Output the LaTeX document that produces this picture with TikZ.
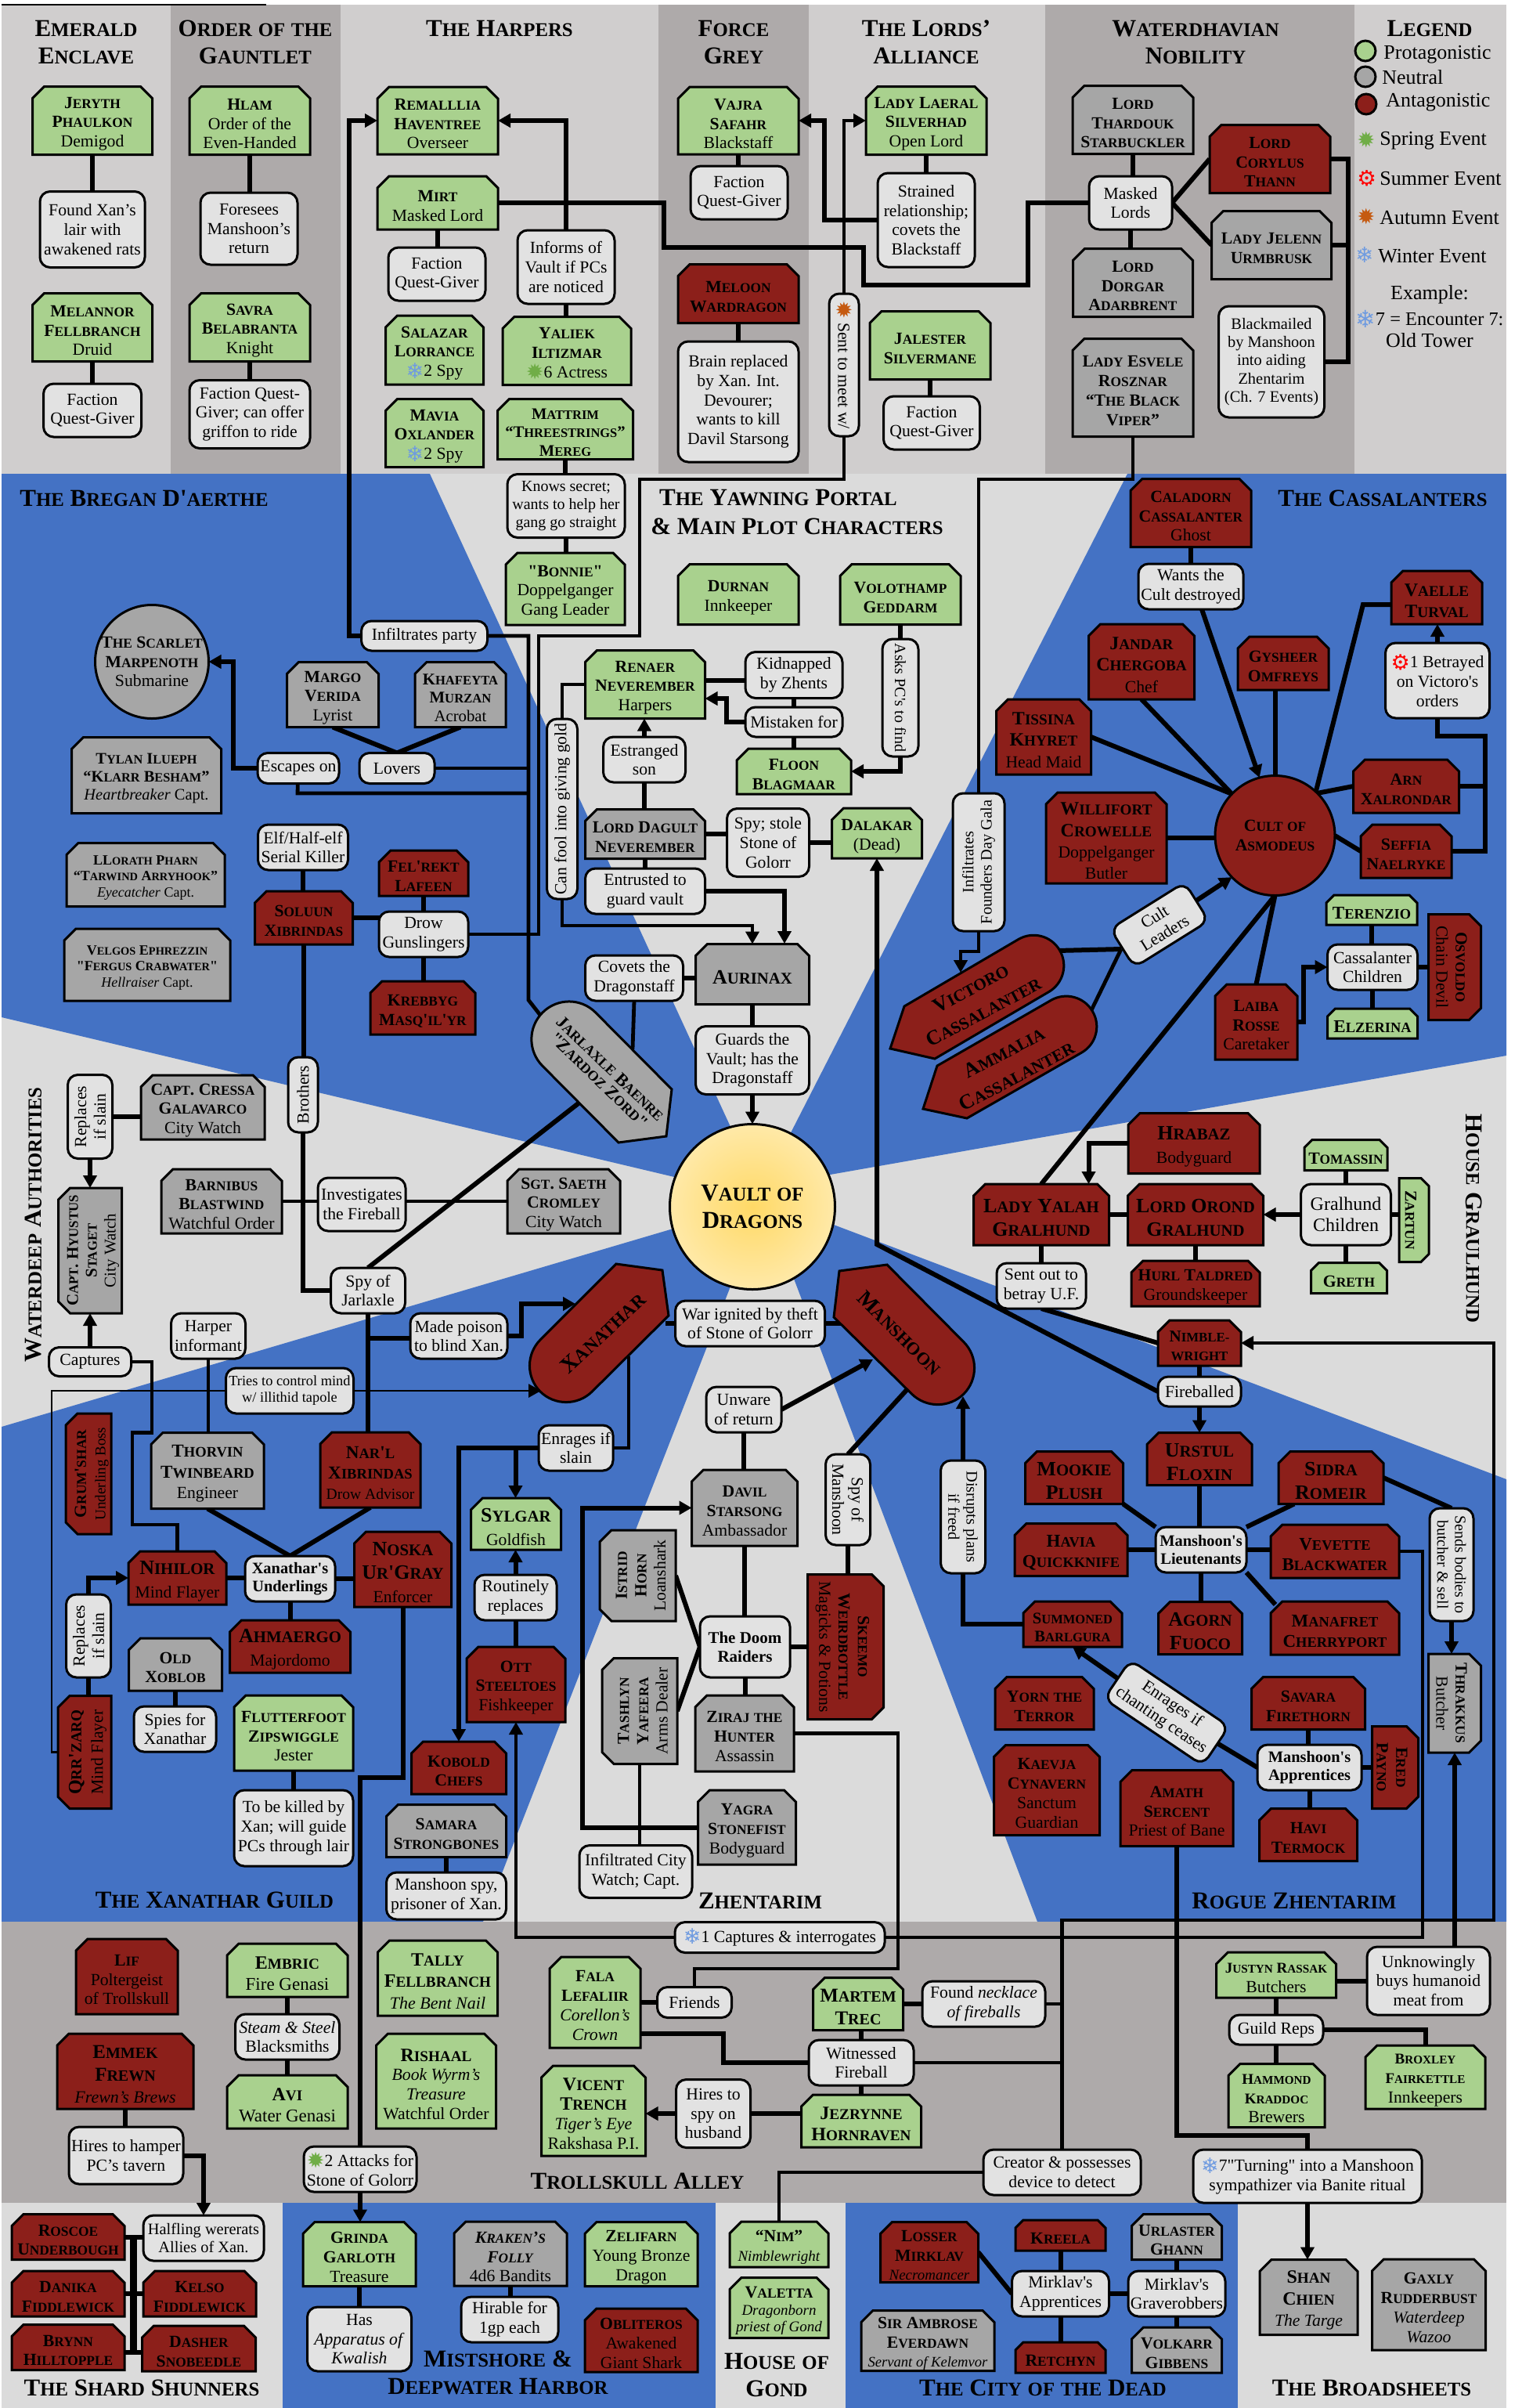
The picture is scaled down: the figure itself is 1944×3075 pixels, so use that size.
\documentclass[tikz,border=0pt]{standalone}
\usepackage{fontspec}
\setmainfont{Liberation Serif}[Ligatures=TeXOff]
\newfontfamily\symf{DejaVu Sans}
\usetikzlibrary{arrows.meta,calc}
\definecolor{cgreen}{HTML}{A9D18E}
\definecolor{cred}{HTML}{8C1F1A}
\definecolor{cgray}{HTML}{A6A6A6}
\definecolor{cnote}{HTML}{E2E2E2}
\definecolor{cblue}{HTML}{4472C4}
\definecolor{clight}{HTML}{DBDBDB}
\definecolor{bandl}{HTML}{D0CECE}
\definecolor{bandd}{HTML}{AEAAAA}
\definecolor{sprc}{HTML}{70AD47}
\definecolor{sumc}{HTML}{FF0000}
\definecolor{autc}{HTML}{C55A11}
\definecolor{winc}{HTML}{6F9BE0}
\definecolor{vaultin}{HTML}{FFD966}
\definecolor{vaultout}{HTML}{FFE9A8}
\pgfdeclarelayer{bgd}\pgfdeclarelayer{conn}\pgfsetlayers{bgd,conn,main}
\newcommand\sz[1]{\fontsize{#1}{\dimexpr #1pt*114/100\relax}\selectfont}
\makeatletter
\def\SC#1{\@tempdima=\f@size pt \@tempdima=.8\@tempdima \edef\scsz{\strip@pt\@tempdima}\SCwords#1 \SCstop}
\def\SCwords#1 #2\SCstop{\SCloop#1\SCend\if\relax\detokenize{#2}\relax\else\space\SCwords#2\SCstop\fi}
\def\SCend{\SCend}
\def\SCloop#1{\ifx#1\SCend\else\SCchar{#1}\expandafter\SCloop\fi}
\def\SCchar#1{\ifnum`#1=\lccode`#1 {\fontsize{\scsz}{0}\selectfont\uppercase{#1}}\else #1\fi}
\newdimen\cardsnip \newdimen\snxa \newdimen\snya \newdimen\snxb \newdimen\snyb
\pgfdeclareshape{snipcard}{
 \inheritsavedanchors[from=rectangle]
 \inheritanchorborder[from=rectangle]
 \inheritanchor[from=rectangle]{center}
 \inheritanchor[from=rectangle]{north}
 \inheritanchor[from=rectangle]{south}
 \inheritanchor[from=rectangle]{east}
 \inheritanchor[from=rectangle]{west}
 \inheritanchor[from=rectangle]{north east}
 \inheritanchor[from=rectangle]{north west}
 \inheritanchor[from=rectangle]{south east}
 \inheritanchor[from=rectangle]{south west}
 \anchor{text}{\pgfqpoint{0pt}{-2pt}}
 \backgroundpath{
  \southwest \snxa=\pgf@x \snya=\pgf@y
  \northeast \snxb=\pgf@x \snyb=\pgf@y
  \pgfpathmoveto{\pgfqpoint{\snxa}{\snya}}
  \pgfpathlineto{\pgfqpoint{\snxa}{\dimexpr\snyb-\cardsnip\relax}}
  \pgfpathlineto{\pgfqpoint{\dimexpr\snxa+\cardsnip\relax}{\snyb}}
  \pgfpathlineto{\pgfqpoint{\dimexpr\snxb-\cardsnip\relax}{\snyb}}
  \pgfpathlineto{\pgfqpoint{\snxb}{\dimexpr\snyb-\cardsnip\relax}}
  \pgfpathlineto{\pgfqpoint{\snxb}{\snya}}
  \pgfpathclose
 }
}
\makeatother
\newcommand\N[1]{\textbf{\SC{#1}}}
\newcommand\tx[2]{{\sz{#1}#2}}
\newcommand\icn[2]{\raisebox{-.12em}{\scalebox{1.25}{\symf\color{#1}#2}}}
\newcommand\SPR{\icn{sprc}{✹}}
\newcommand\SUM{\icn{sumc}{⚙}}
\newcommand\AUT{\icn{autc}{✹}}
\newcommand\WIN{\icn{winc}{❄}}
\tikzset{
 fs/.style={font=\sz{#1}},
 snip/.code={\setlength\cardsnip{#1}},
 base/.style={draw=black,line width=1.5pt,align=center,inner sep=0pt,outer sep=0pt,fs=10.85},
 card/.style={base,shape=snipcard,snip=7.5pt},
 gcard/.style={card,fill=cgreen},
 rcard/.style={card,fill=cred},
 ycard/.style={card,fill=cgray},
 note/.style={base,rectangle,rounded corners=6.5pt,fill=cnote},
 disc/.style={base,circle},
 title/.style={align=center,inner sep=0pt,fs=15.5},
 leg/.style={anchor=west,inner sep=0pt,fs=13},
 bigshape/.style={draw=black,line width=1.5pt,fill=cred,line join=miter},
 th/.style={draw=black,line width=3pt},
 md/.style={draw=black,line width=2.4pt},
 tn/.style={draw=black,line width=1.4pt},
 arr/.style={-{Triangle[length=8pt,width=8.5pt]}},
}
\newcommand\nd[6]{\node[#5,minimum width=#3*.5pt,minimum height=#4*.5pt] (#1) at (#2) {#6};}
\newcommand\VL[3][th]{\draw[#1] (#2.center) -- (#2.center |- #3.center);}
\newcommand\HL[3][th]{\draw[#1] (#2.center) -- (#2.center -| #3.center);}
\begin{document}
\begin{tikzpicture}[x=.5pt,y=-.5pt]
\useasboundingbox (0,0) rectangle (1944,3075);
\begin{pgfonlayer}{bgd}
\fill[white] (0,0) rectangle (1944,3075);
\fill[clight] (2,605) rectangle (1924,2454);
\fill[cblue] (2,605) -- (549,605) -- (975,1530) -- (2,1299) -- cycle;
\fill[cblue] (1440,605) -- (1924,605) -- (1924,1348) -- (975,1515) -- cycle;
\fill[cblue] (2,1822) -- (975,1535) -- (617,2454) -- (2,2454) -- cycle;
\fill[cblue] (975,1530) -- (1924,1889) -- (1924,2454) -- (1325,2454) -- cycle;
\fill[bandl] (2,6) rectangle (218,605);
\fill[bandd] (218,6) rectangle (435,605);
\fill[bandl] (435,6) rectangle (841,605);
\fill[bandd] (841,6) rectangle (1033,605);
\fill[bandl] (1033,6) rectangle (1335,605);
\fill[bandd] (1335,6) rectangle (1730,605);
\fill[bandl] (1730,6) rectangle (1924,605);
\draw[line width=.7pt] (2,6) -- (340,6);
\fill[bandd] (2,2454) rectangle (1924,2813);
\fill[clight] (2,2813) rectangle (361,3075);
\fill[cblue] (361,2813) rectangle (914,3075);
\fill[clight] (914,2813) rectangle (1080,3075);
\fill[cblue] (1080,2813) rectangle (1581,3075);
\fill[clight] (1581,2813) rectangle (1924,3075);
\end{pgfonlayer}
% titles
\node[title] (t1) at (110,54) {\N{Emerald}\\\N{Enclave}};
\node[title] (t2) at (326,54) {\N{Order of the}\\\N{Gauntlet}};
\node[title] (t3) at (638,36) {\N{The Harpers}};
\node[title] (t4) at (937,54) {\N{Force}\\\N{Grey}};
\node[title] (t5) at (1183,54) {\N{The Lords’}\\\N{Alliance}};
\node[title] (t6) at (1527,54) {\N{Waterdhavian}\\\N{Nobility}};
\node[title] (t7) at (1826,36) {\N{Legend}};
\node[title] (t8) at (184,636) {\N{The Bregan D'aerthe}};
\node[title] (t9a) at (994,636) {\N{The Yawning Portal}};
\node[title] (t9b) at (1018,672) {\N{\& Main Plot Characters}};
\node[title] (t10) at (1766,636) {\N{The Cassalanters}};
\node[title,rotate=90] (t11) at (43,1564) {\N{Waterdeep Authorities}};
\node[title,rotate=-90] (t12) at (1883,1556) {\N{House Graulhund}};
\node[title] (t13) at (274,2426) {\N{The Xanathar Guild}};
\node[title] (t14) at (971,2427) {\N{Zhentarim}};
\node[title] (t15) at (1653,2427) {\N{Rogue Zhentarim}};
\node[title] (t16) at (814,2785) {\N{Trollskull Alley}};
\node[title] (t17) at (181,3049) {\N{The Shard Shunners}};
\node[title] (t18) at (636,3030) {\N{Mistshore \&}\\\N{Deepwater Harbor}};
\node[title] (t19) at (992,3033) {\N{House of}\\\N{Gond}};
\node[title] (t20) at (1332,3049) {\N{The City of the Dead}};
\node[title] (t21) at (1752,3049) {\N{The Broadsheets}};
% legend
\nd{lg1}{1744,65}{26}{26}{disc,fill=cgreen}{}
\nd{lg2}{1744,98}{26}{26}{disc,fill=cgray}{}
\nd{lg3}{1745,133}{26}{26}{disc,fill=cred}{}
\node[leg] (lt1) at (1767,70) {Protagonistic};
\node[leg] (lt2) at (1765,99) {Neutral};
\node[leg] (lt3) at (1770,131) {Antagonistic};
\node[leg,fs=11] (li1) at (1733,178) {\SPR};
\node[leg] (lt4) at (1762,180) {Spring Event};
\node[leg,fs=11] (li2) at (1733,228) {\SUM};
\node[leg] (lt5) at (1762,228) {Summer Event};
\node[leg,fs=11] (li3) at (1733,276) {\AUT};
\node[leg] (lt6) at (1762,278) {Autumn Event};
\node[leg,fs=11] (li4) at (1731,325) {\WIN};
\node[leg] (lt7) at (1760,327) {Winter Event};
\node[fs=13,inner sep=0pt] (lt8) at (1826,376) {Example:};
\node[leg,fs=12.2] (lt9) at (1731,407) {\WIN7 = Encounter 7:};
\node[fs=13,inner sep=0pt] (lt10) at (1826,435) {Old Tower};
% top band nodes
\nd{jeryth}{118,154}{153}{87}{gcard}{\N{Jeryth}\\\N{Phaulkon}\\Demigod}
\nd{found}{118,293}{134}{97}{note}{Found Xan’s\\lair with\\awakened rats}
\nd{melannor}{118,418}{153}{87}{gcard}{\N{Melannor}\\\N{Fellbranch}\\Druid}
\nd{fq1}{118,524}{125}{68}{note}{Faction\\Quest-Giver}
\nd{hlam}{319,154}{154}{87}{gcard}{\N{Hlam}\\Order of the\\Even-Handed}
\nd{foresees}{318,292}{124}{92}{note}{Foresees\\Manshoon’s\\return}
\nd{savra}{319,418}{154}{87}{gcard}{\N{Savra}\\\N{Belabranta}\\Knight}
\nd{griffon}{319,529}{154}{87}{note}{Faction Quest-\\Giver; can offer\\griffon to ride}
\nd{remal}{559,154}{154}{86}{gcard}{\N{Remalllia}\\\N{Haventree}\\Overseer}
\nd{mirt}{559,259}{154}{68}{gcard}{\N{Mirt}\\Masked Lord}
\nd{fq2}{558,350}{124}{68}{note}{Faction\\Quest-Giver}
\nd{informs}{723,341}{124}{94}{note}{Informs of\\Vault if PCs\\are noticed}
\nd{salazar}{555,447}{125}{88}{gcard}{\N{Salazar}\\\N{Lorrance}\\\WIN2 Spy}
\nd{yaliek}{724,448}{164}{87}{gcard}{\N{Yaliek}\\\N{Iltizmar}\\\SPR6 Actress}
\nd{mavia}{555,553}{125}{87}{gcard}{\N{Mavia}\\\N{Oxlander}\\\WIN2 Spy}
\nd{mattrim}{722,548}{173}{77}{gcard,fs=10.3}{\N{Mattrim}\\\N{“Threestrings”}\\\N{Mereg}}
\nd{knows}{723,646}{150}{81}{note,fs=10}{Knows secret;\\wants to help her\\gang go straight}
\nd{bonnie}{722,752}{152}{92}{gcard}{\N{"Bonnie"}\\Doppelganger\\Gang Leader}
\nd{vajra}{943,154}{154}{86}{gcard}{\N{Vajra}\\\N{Safahr}\\Blackstaff}
\nd{fq3}{944,246}{124}{68}{note}{Faction\\Quest-Giver}
\nd{meloon}{943,375}{154}{75}{rcard}{\N{Meloon}\\\N{Wardragon}}
\nd{brain}{943,513}{154}{154}{note}{Brain replaced\\by Xan. Int.\\Devourer;\\wants to kill\\Davil Starsong}
\nd{durnan}{943,759}{154}{77}{gcard}{\N{Durnan}\\Innkeeper}
\nd{laeral}{1183,154}{154}{87}{gcard}{\N{Lady Laeral}\\\N{Silverhad}\\Open Lord}
\nd{strained}{1183,281}{124}{120}{note}{Strained\\relationship;\\covets the\\Blackstaff}
\nd{sentw}{1078,466}{182}{38}{note,rotate=-90}{\AUT\ Sent to meet w/}
\nd{jalester}{1188,441}{154}{87}{gcard}{\N{Jalester}\\\N{Silvermane}}
\nd{fq4}{1190,540}{123}{68}{note}{Faction\\Quest-Giver}
\nd{thardouk}{1447,153}{154}{87}{ycard}{\N{Lord}\\\N{Thardouk}\\\N{Starbuckler}}
\nd{corylus}{1622,203}{154}{87}{rcard}{\N{Lord}\\\N{Corylus}\\\N{Thann}}
\nd{masked}{1444,259}{106}{68}{note}{Masked\\Lords}
\nd{jelenn}{1624,313}{153}{87}{ycard}{\N{Lady Jelenn}\\\N{Urmbrusk}}
\nd{dorgar}{1447,361}{153}{87}{ycard}{\N{Lord}\\\N{Dorgar}\\\N{Adarbrent}}
\nd{blackm}{1624,462}{135}{142}{note,fs=10.2}{Blackmailed\\by Manshoon\\into aiding\\Zhentarim\\(Ch. 7 Events)}
\nd{esvele}{1447,495}{154}{125}{ycard}{\N{Lady Esvele}\\\N{Rosznar}\\\N{“The Black}\\\N{Viper”}}
% Bregan
\nd{scarlet}{194,845}{145}{145}{disc,fill=cgray}{\N{The Scarlet}\\\N{Marpenoth}\\Submarine}
\nd{infparty}{542,812}{161}{38}{note}{Infiltrates party}
\nd{margo}{425,887}{117}{83}{ycard}{\N{Margo}\\\N{Verida}\\Lyrist}
\nd{khafeyta}{588,887}{116}{83}{ycard,fs=10.4}{\N{Khafeyta}\\\N{Murzan}\\Acrobat}
\nd{tylan}{187,990}{191}{97}{ycard,fs=10.2}{\N{Tylan Ilueph}\\\N{“Klarr Besham”}\\\textit{Heartbreaker} Capt.}
\nd{escapes}{381,981}{104}{39}{note}{Escapes on}
\nd{lovers}{507,981}{96}{39}{note}{Lovers}
\nd{renaer}{824,874}{153}{87}{gcard}{\N{Renaer}\\\N{Neverember}\\Harpers}
\nd{estranged}{823,970}{105}{58}{note}{Estranged\\son}
\nd{canfool}{718,1033}{230}{39}{note,rotate=90}{Can fool into giving gold}
\nd{dagult}{824,1065}{153}{63}{ycard}{\N{Lord Dagult}\\\N{Neverember}}
\nd{entrusted}{824,1138}{153}{58}{note}{Entrusted to\\guard vault}
\nd{llorath}{186,1117}{202}{81}{ycard,fs=9}{\N{LLorath Pharn}\\\N{“Tarwind Arryhook”}\\\textit{Eyecatcher} Capt.}
\nd{elf}{387,1082}{115}{58}{note}{Elf/Half-elf\\Serial Killer}
\nd{felrekt}{541,1115}{114}{58}{rcard}{\N{Fel'rekt}\\\N{Lafeen}}
\nd{soluun}{388,1172}{125}{68}{rcard}{\N{Soluun}\\\N{Xibrindas}}
\nd{drow}{541,1193}{114}{58}{note}{Drow\\Gunslingers}
\nd{velgos}{188,1232}{212}{92}{ycard,fs=9}{\N{Velgos Ephrezzin}\\\N{"Fergus Crabwater"}\\\textit{Hellraiser} Capt.}
\nd{krebbyg}{540,1287}{134}{68}{rcard}{\N{Krebbyg}\\\N{Masq'il'yr}}
\nd{covets}{810,1249}{125}{58}{note}{Covets the\\Dragonstaff}
\nd{aurinax}{961,1244}{145}{77}{ycard,fs=13}{\N{Aurinax}}
\nd{guards}{961,1354}{145}{87}{note}{Guards the\\Vault; has the\\Dragonstaff}
\nd{vault}{961,1541}{211}{211}{disc,shading=radial,inner color=vaultin,outer color=vaultout,fs=15.5}{\N{Vault of}\\\N{Dragons}}
% Jarlaxle
\draw[bigshape,fill=cgray] (790,1459) -- (851,1451) -- (858,1391) [rounded corners=24pt] -- (727,1259) -- (659,1327) [sharp corners] -- cycle;
\node[align=center,inner sep=0pt,rotate=-44,fs=11.2] (jarl) at (772.5,1372) {\N{Jarlaxle Baenre}\\[-2.5pt]\N{"Zardoz Zord"}};
% authorities
\nd{repl1}{115,1426}{107}{57}{note,rotate=90}{Replaces\\if slain}
\nd{cressa}{259,1414}{158}{82}{ycard}{\N{Capt. Cressa}\\\N{Galavarco}\\City Watch}
\nd{brothers}{387,1398}{96}{38}{note,rotate=90}{Brothers}
\nd{hyustus}{115,1597}{160}{81}{ycard,rotate=90,fs=10.5}{\N{Capt. Hyustus}\\\N{Staget}\\City Watch}
\nd{barnibus}{283,1534}{154}{82}{ycard}{\N{Barnibus}\\\N{Blastwind}\\Watchful Order}
\nd{investig}{462,1538}{112}{68}{note}{Investigates\\the Fireball}
\nd{sgt}{720,1534}{144}{82}{ycard}{\N{Sgt. Saeth}\\\N{Cromley}\\City Watch}
\nd{spyj}{470,1648}{95}{58}{note}{Spy of\\Jarlaxle}
\nd{poison}{586,1706}{124}{58}{note}{Made poison\\to blind Xan.}
\nd{harper}{266,1706}{95}{58}{note}{Harper\\informant}
\nd{captures}{115,1739}{105}{37}{note}{Captures}
\nd{tries}{370,1776}{163}{58}{note,fs=9.2}{Tries to control mind\\w/ illithid tapole}
% Xanathar
\draw[bigshape] (787,1614) -- (846,1622) -- (854,1680) [rounded corners=23.5pt] -- (723,1810) -- (657,1744) [sharp corners] -- cycle;
\node[inner sep=0pt,rotate=43,fs=14.5] (xanathar) at (770,1702) {\N{Xanathar}};
\nd{war}{958,1690}{191}{58}{note}{War ignited by theft\\of Stone of Golorr}
\nd{unware}{950,1800}{96}{58}{note}{Unware\\of return}
% Manshoon
\draw[bigshape] (1072,1623) -- (1133,1615) [rounded corners=23.5pt] -- (1264,1747) -- (1198,1813) [sharp corners] -- (1065,1682) -- cycle;
\node[inner sep=0pt,rotate=-45,fs=14] (manshoon) at (1149,1702) {\N{Manshoon}};
% Main plot right
\nd{volo}{1150,759}{154}{77}{gcard}{\N{Volothamp}\\\N{Geddarm}}
\nd{kidnapped}{1014,862}{124}{59}{note}{Kidnapped\\by Zhents}
\nd{mistaken}{1014,922}{124}{38}{note}{Mistaken for}
\nd{floon}{1014,985}{146}{58}{gcard}{\N{Floon}\\\N{Blagmaar}}
\nd{asks}{1150,891}{150}{46}{note,rotate=-90,fs=10}{Asks PC's to find}
\nd{spy}{981,1076}{105}{87}{note}{Spy; stole\\Stone of\\Golorr}
\nd{dalakar}{1120,1064}{115}{64}{gcard}{\N{Dalakar}\\(Dead)}
\nd{inffound}{1250,1101}{176}{66}{note,rotate=90,fs=10.2}{Infiltrates\\Founders Day Gala}
% Cassalanters
\nd{caladorn}{1521,655}{154}{87}{rcard}{\N{Caladorn}\\\N{Cassalanter}\\Ghost}
\nd{wants}{1521,749}{134}{58}{note}{Wants the\\Cult destroyed}
\nd{vaelle}{1835,763}{116}{68}{rcard,fs=12}{\N{Vaelle}\\\N{Turval}}
\nd{jandar}{1458,845}{135}{96}{rcard,fs=12}{\N{Jandar}\\\N{Chergoba}\\\tx{10.85}{Chef}}
\nd{gysheer}{1639,847}{116}{68}{rcard}{\N{Gysheer}\\\N{Omfreys}}
\nd{betrayed}{1836,869}{133}{96}{note}{\SUM1 Betrayed\\on Victoro's\\orders}
\nd{tissina}{1333,941}{121}{96}{rcard,fs=12}{\N{Tissina}\\\N{Khyret}\\\tx{10.85}{Head Maid}}
\nd{arn}{1796,1004}{135}{68}{rcard}{\N{Arn}\\\N{Xalrondar}}
\nd{seffia}{1796,1087}{116}{68}{rcard}{\N{Seffia}\\\N{Naelryke}}
\nd{willif}{1413,1070}{154}{116}{rcard,fs=12}{\N{Willifort}\\\N{Crowelle}\\\tx{10.85}{Doppelganger}\\\tx{10.85}{Butler}}
\nd{cult}{1628.5,1067}{153}{153}{disc,fill=cred}{\N{Cult of}\\\N{Asmodeus}}
\nd{cl}{1481,1181}{112}{58}{note,rotate=32}{Cult\\Leaders}
\nd{terenzio}{1752,1162}{116}{38}{gcard,snip=5pt,fs=11.5}{\N{Terenzio}}
\nd{osvoldo}{1858,1235}{135}{67}{rcard,rotate=-90}{\N{Osvoldo}\\Chain Devil}
\nd{children}{1753,1235}{115}{58}{note}{Cassalanter\\Children}
\nd{elzerina}{1753,1307}{115}{38}{gcard,snip=5pt,fs=11.5}{\N{Elzerina}}
\nd{laiba}{1604.5,1305}{105}{96}{rcard}{\N{Laiba}\\\N{Rosse}\\Caretaker}
% Victoro, Ammalia
\draw[bigshape] (1155,1285) -- (1137,1339) -- (1194,1352) [rounded corners=19.3pt] -- (1373,1247) -- (1334,1180) [sharp corners] -- cycle;
\node[align=center,inner sep=0pt,rotate=28,fs=13.3] (victoro) at (1248,1277) {\N{Victoro}\\[2pt]\N{Cassalanter}};
\draw[bigshape] (1197,1361) -- (1179,1416) -- (1235,1428) [rounded corners=19.3pt] -- (1415,1325) -- (1376,1258) [sharp corners] -- cycle;
\node[align=center,inner sep=0pt,rotate=28,fs=13.3] (ammalia) at (1290.5,1359) {\N{Ammalia}\\[2pt]\N{Cassalanter}};
% Gralhund
\nd{hrabaz}{1525,1460}{168}{77}{rcard,fs=13}{\N{Hrabaz}\\\tx{10.85}{Bodyguard}}
\nd{tomassin}{1719,1475}{106}{39}{gcard,snip=5pt}{\N{Tomassin}}
\nd{yalah}{1330,1551}{173}{78}{rcard,fs=13}{\N{Lady Yalah}\\\N{Gralhund}}
\nd{orond}{1527,1551}{173}{78}{rcard,fs=13}{\N{Lord Orond}\\\N{Gralhund}}
\nd{gchild}{1719,1551}{115}{78}{note,fs=12}{Gralhund\\Children}
\nd{zartun}{1806,1558}{107}{38}{gcard,rotate=-90,snip=5pt}{\N{Zartun}}
\nd{sentout}{1330,1642}{114}{58}{note}{Sent out to\\betray U.F.}
\nd{hurl}{1527,1639}{164}{58}{rcard}{\N{Hurl Taldred}\\Groundskeeper}
\nd{greth}{1723,1632}{97}{39}{gcard,snip=5pt}{\N{Greth}}
\nd{nimble}{1532,1715}{106}{58}{rcard,fs=10.5}{\N{Nimble-}\\\N{wright}}
\nd{fireballed}{1532,1777}{106}{38}{note}{Fireballed}
% Rogue
\nd{urstul}{1532,1863}{134}{67}{rcard,fs=13}{\N{Urstul}\\\N{Floxin}}
\nd{mookie}{1372,1887}{125}{67}{rcard,fs=13}{\N{Mookie}\\\N{Plush}}
\nd{sidra}{1700,1887}{134}{67}{rcard,fs=13}{\N{Sidra}\\\N{Romeir}}
\nd{sends}{1854,1998}{144}{56}{note,rotate=-90,fs=10}{Sends bodies to\\butcher \& sell}
\nd{disrupts}{1230,1937}{144}{57}{note,rotate=-90,fs=10.2}{Disrupts plans\\if freed}
\nd{spym}{1083,1915}{116}{57}{note,rotate=-90}{Spy of\\Manshoon}
\nd{havia}{1368,1979}{144}{67}{rcard,fs=11.5}{\N{Havia}\\\N{Quickknife}}
\nd{lieut}{1534,1979}{116}{58}{note,fs=10.2}{\textbf{Manshoon's}\\\textbf{Lieutenants}}
\nd{vevette}{1705,1981}{164}{68}{rcard,fs=11.5}{\N{Vevette}\\\N{Blackwater}}
\nd{summoned}{1370,2074}{126}{58}{rcard,fs=10.3}{\N{Summoned}\\\N{Barlgura}}
\nd{agorn}{1533,2079}{107}{67}{rcard,fs=13}{\N{Agorn}\\\N{Fuoco}}
\nd{manafret}{1705,2079}{164}{68}{rcard,fs=11.5}{\N{Manafret}\\\N{Cherryport}}
\nd{thrakkus}{1858,2175}{126}{67}{ycard,rotate=-90}{\N{Thrakkus}\\Butcher}
\nd{skeemo}{1080,2103}{185}{97}{rcard,rotate=-90}{\N{Skeemo}\\\N{Weirdbottle}\\Magicks \& Potions}
\nd{yorn}{1334,2175}{126}{67}{rcard}{\N{Yorn the}\\\N{Terror}}
\nd{savara}{1671,2175}{145}{67}{rcard}{\N{Savara}\\\N{Firethorn}}
\nd{ench}{1490,2187}{152}{60}{note,rotate=-34}{Enrages if\\chanting ceases}
\nd{ered}{1782,2257}{105}{59}{rcard,rotate=-90}{\N{Ered}\\\N{Payno}}
\nd{appr}{1672.5,2257}{133}{58}{note,fs=10.2}{\textbf{Manshoon's}\\\textbf{Apprentices}}
\nd{kaevja}{1337,2286}{135}{115}{rcard}{\N{Kaevja}\\\N{Cynavern}\\Sanctum\\Guardian}
\nd{amath}{1503,2309}{144}{97}{rcard}{\N{Amath}\\\N{Sercent}\\Priest of Bane}
\nd{havi}{1671,2343}{125}{67}{rcard}{\N{Havi}\\\N{Termock}}
% Xanathar guild
\nd{grum}{113,1882}{154}{58}{rcard,rotate=90}{\N{Grum'shar}\\\tx{9.5}{Underling Boss}}
\nd{thorvin}{265,1878}{144}{97}{ycard,fs=11.6}{\N{Thorvin}\\\N{Twinbeard}\\\tx{10.85}{Engineer}}
\nd{narl}{473,1877}{128}{96}{rcard,fs=11.6}{\N{Nar'l}\\\N{Xibrindas}\\\tx{9.8}{Drow Advisor}}
\nd{enslain}{735.5,1849}{95}{58}{note}{Enrages if\\slain}
\nd{sylgar}{659,1946}{115}{66}{gcard,fs=13}{\N{Sylgar}\\\tx{10.85}{Goldfish}}
\nd{nihilor}{226.5,2015}{125}{68}{rcard,fs=13}{\N{Nihilor}\\\tx{10.85}{Mind Flayer}}
\nd{underl}{370.5,2016}{115}{58}{note,fs=10.2}{\textbf{Xanathar's}\\\textbf{Underlings}}
\nd{noska}{514.5,2004}{124}{96}{rcard,fs=13}{\N{Noska}\\\N{Ur'Gray}\\\tx{10.85}{Enforcer}}
\nd{routinely}{658.5,2040}{105}{58}{note}{Routinely\\replaces}
\nd{repl2}{113,2089}{106}{57}{note,rotate=90}{Replaces\\if slain}
\nd{ahmaergo}{370.5,2102.5}{154}{67}{rcard,fs=13}{\N{Ahmaergo}\\\tx{10.85}{Majordomo}}
\nd{xoblob}{224,2125.5}{119}{67}{ycard}{\N{Old}\\\N{Xoblob}}
\nd{ott}{659,2151}{126}{96}{rcard}{\N{Ott}\\\N{Steeltoes}\\Fishkeeper}
\nd{spies}{223.5,2208}{105}{58}{note}{Spies for\\Xanathar}
\nd{qrr}{108,2237.5}{144}{68}{rcard,rotate=90,fs=12}{\N{Qrr'zarq}\\\tx{10.85}{Mind Flayer}}
\nd{flutter}{375,2213}{152}{96}{gcard}{\N{Flutterfoot}\\\N{Zipswiggle}\\Jester}
\nd{kobold}{586,2257.5}{121}{67}{rcard}{\N{Kobold}\\\N{Chefs}}
\nd{kill}{375,2334.5}{152}{97}{note}{To be killed by\\Xan; will guide\\PCs through lair}
\nd{samara}{570,2338}{153}{67}{ycard}{\N{Samara}\\\N{Strongbones}}
\nd{mspy}{570,2421}{153}{60}{note}{Manshoon spy,\\prisoner of Xan.}
% Zhentarim
\nd{davil}{951,1925.5}{135}{97}{ycard}{\N{Davil}\\\N{Starsong}\\Ambassador}
\nd{istrid}{814.5,2012}{116}{97}{ycard,rotate=90}{\N{Istrid}\\\N{Horn}\\Loanshark}
\nd{doom}{951.5,2103}{115}{78}{note,fs=10.5}{\textbf{The Doom}\\\textbf{Raiders}}
\nd{tashlyn}{817,2185}{135}{96}{ycard,rotate=90}{\N{Tashlyn}\\\N{Yafeera}\\Arms Dealer}
\nd{ziraj}{951,2213.5}{126}{97}{ycard}{\N{Ziraj the}\\\N{Hunter}\\Assassin}
\nd{yagra}{954,2333.5}{125}{95}{ycard}{\N{Yagra}\\\N{Stonefist}\\Bodyguard}
\nd{infcity}{812,2390}{144}{67}{note}{Infiltrated City\\Watch; Capt.}
\nd{capt}{996,2474}{268}{39}{note}{\WIN1 Captures \& interrogates}
% Trollskull
\nd{lif}{162,2524}{130}{96}{rcard}{\N{Lif}\\Poltergeist\\of Trollskull}
\nd{embric}{367,2516}{154}{68}{gcard,fs=12}{\N{Embric}\\\tx{11.5}{Fire Genasi}}
\nd{tally}{559,2526}{153}{96}{gcard,fs=12}{\N{Tally}\\\N{Fellbranch}\\\tx{11}{\textit{The Bent Nail}}}
\nd{fala}{760,2557}{116}{116}{gcard}{\N{Fala}\\\N{Lefaliir}\\\textit{Corellon’s}\\\textit{Crown}}
\nd{friends}{887,2557}{95}{39}{note}{Friends}
\nd{emmek}{160,2645}{174}{96}{rcard,fs=12.5}{\N{Emmek}\\\N{Frewn}\\\tx{11}{\textit{Frewn’s Brews}}}
\nd{steam}{367,2601}{133}{58}{note}{\textit{Steam \& Steel}\\Blacksmiths}
\nd{avi}{367,2684}{154}{68}{gcard,fs=12}{\N{Avi}\\\tx{11.5}{Water Genasi}}
\nd{rishaal}{557,2657.5}{153}{121}{gcard}{\tx{12}{\N{Rishaal}}\\\textit{Book Wyrm’s}\\\textit{Treasure}\\Watchful Order}
\nd{vicent}{758,2695.5}{133}{115}{gcard,fs=11}{\tx{12}{\N{Vicent}}\\\tx{12}{\N{Trench}}\\\textit{Tiger’s Eye}\\Rakshasa P.I.}
\nd{hires}{911,2699}{95}{87}{note}{Hires to\\spy on\\husband}
\nd{hamper}{161,2752.5}{146}{73}{note}{Hires to hamper\\PC’s tavern}
\nd{attacks}{460,2770}{144}{58}{note}{\SPR2 Attacks for\\Stone of Golorr}
\nd{martem}{1096,2559}{115}{67}{gcard,fs=12.5}{\N{Martem}\\\N{Trec}}
\nd{necklace}{1256.5,2559}{157}{58}{note}{Found \textit{necklace}\\\textit{of fireballs}}
\nd{witness}{1100,2634}{134}{58}{note}{Witnessed\\Fireball}
\nd{jezr}{1100,2708.5}{153}{67}{gcard,fs=12}{\N{Jezrynne}\\\N{Hornraven}}
\nd{creator}{1356.5,2774}{201}{58}{note}{Creator \& possesses\\device to detect}
\nd{turning}{1670,2779}{292}{68}{note}{\WIN7"Turning" into a Manshoon\\sympathizer via Banite ritual}
\nd{justyn}{1630,2522}{153}{58}{gcard}{\tx{9.5}{\N{Justyn Rassak}}\\Butchers}
\nd{unknow}{1824.5,2529.5}{157}{87}{note}{Unknowingly\\buys humanoid\\meat from}
\nd{guild}{1630,2592}{120}{38}{note}{Guild Reps}
\nd{broxley}{1820.5,2652.5}{153}{81}{gcard}{\tx{9.5}{\N{Broxley}}\\\tx{9.5}{\N{Fairkettle}}\\Innkeepers}
\nd{hammond}{1630.5,2676}{123}{81}{gcard}{\tx{9.5}{\N{Hammond}}\\\tx{9.5}{\N{Kraddoc}}\\Brewers}
% Bottom
\nd{roscoe}{87,2856.5}{144}{58}{rcard}{\N{Roscoe}\\\N{Underbough}}
\nd{halfling}{260,2858}{154}{58}{note,fs=10.2}{Halfling wererats\\Allies of Xan.}
\nd{danika}{87,2929}{144}{58}{rcard}{\N{Danika}\\\N{Fiddlewick}}
\nd{kelso}{255,2929}{144}{58}{rcard}{\N{Kelso}\\\N{Fiddlewick}}
\nd{brynn}{87,2997.5}{144}{58}{rcard}{\N{Brynn}\\\N{Hilltopple}}
\nd{dasher}{254,2999}{145}{58}{rcard}{\N{Dasher}\\\N{Snobeedle}}
\nd{grinda}{459,2878.5}{144}{82}{gcard}{\N{Grinda}\\\N{Garloth}\\Treasure}
\nd{kraken}{652,2878}{144}{82}{ycard}{\textit{\N{Kraken’s}}\\\textit{\N{Folly}}\\4d6 Bandits}
\nd{zelifarn}{819,2878.5}{144}{82}{gcard}{\N{Zelifarn}\\Young Bronze\\Dragon}
\nd{hirable}{651,2962}{124}{58}{note}{Hirable for\\1gp each}
\nd{has}{459,2987}{133}{82}{note}{Has\\\textit{Apparatus of}\\\textit{Kwalish}}
\nd{obliteros}{819,2988.5}{144}{81}{rcard}{\N{Obliteros}\\Awakened\\Giant Shark}
\nd{nim}{995,2866}{126}{58}{gcard}{\N{“Nim”}\\\tx{9.5}{\textit{Nimblewright}}}
\nd{valetta}{995,2947}{126}{77}{gcard,fs=9.5}{\tx{11}{\N{Valetta}}\\\textit{Dragonborn}\\\textit{priest of Gond}}
\nd{losser}{1187,2876}{125}{77}{rcard}{\N{Losser}\\\N{Mirklav}\\\tx{9.5}{\textit{Necromancer}}}
\nd{kreela}{1354.5,2854.5}{115}{39}{rcard,snip=5pt}{\N{Kreela}}
\nd{urlaster}{1503,2856.5}{115}{58}{ycard}{\N{Urlaster}\\\N{Ghann}}
\nd{mapp}{1354.5,2929}{124}{58}{note}{Mirklav's\\Apprentices}
\nd{mgrav}{1503,2929}{124}{58}{note}{Mirklav's\\Graverobbers}
\nd{ambrose}{1185,2989}{170}{77}{ycard}{\N{Sir Ambrose}\\\N{Everdawn}\\\tx{9.3}{\textit{Servant of Kelemvor}}}
\nd{retchyn}{1354.5,3010.5}{115}{39}{rcard,snip=5pt}{\N{Retchyn}}
\nd{volkarr}{1503,3001}{115}{58}{ycard}{\N{Volkarr}\\\N{Gibbens}}
\nd{shan}{1671.5,2933.5}{125}{96}{ycard,fs=12}{\N{Shan}\\\N{Chien}\\\tx{10.85}{\textit{The Targe}}}
\nd{gaxly}{1825,2943}{145}{116}{ycard}{\N{Gaxly}\\\N{Rudderbust}\\\textit{Waterdeep}\\\textit{Wazoo}}
% attachment points on the drawn shapes
\coordinate (jarlA) at (693,1300);
\coordinate (jarlB) at (740,1408);
\coordinate (jarlC) at (808,1340);
\coordinate (xanA) at (735,1665);
\coordinate (xanB) at (691,1776);
\coordinate (xanC) at (803,1732);
\coordinate (xanD) at (850,1690);
\coordinate (manD) at (1075,1690);
\coordinate (manE) at (1115,1736);
\coordinate (manF) at (1158,1775);
\coordinate (manG) at (1230,1783);
\coordinate (vicT) at (1227,1242);
\coordinate (vicR) at (1350,1214);
\coordinate (ammR) at (1393,1292);
\coordinate (clW) at (1432,1212);
% connectors
\begin{pgfonlayer}{conn}
\VL{jeryth}{found}\VL{melannor}{fq1}\VL{hlam}{foresees}\VL{savra}{griffon}\VL{mirt}{fq2}\VL{informs}{yaliek}\VL{mattrim}{knows}\VL{knows}{bonnie}\VL{vajra}{fq3}\VL{meloon}{brain}\VL{laeral}{strained}\VL{jalester}{fq4}\VL{thardouk}{masked}\VL{masked}{dorgar}
\draw[th,arr] (informs.north) |- (remal.east);
\draw[th] (mirt.center) -- (848,259) -- (848,316) -- (1103,316) -- (1103,364) -- (1313,364) -- (1313,259) -- (masked.center);
\draw[th,arr] (infparty.center) -- (446,812) -- (446,154) -- (remal.west);
\draw[th,arr] (strained.center |- 0,281) -- (1053,281) -- (1053,154) -- (vajra.east);
\draw[md,arr] (sentw.center) -- (1078,154) -- (laeral.west);
\draw[md] (sentw.center) -- (1078,612) -- (817,612) -- (817,812) -- (688,812) -- (688,1193) -- (drow.center);
\draw[th] (masked.east) -- (corylus.west);
\draw[th] (masked.east) -- (jelenn.west);
\draw[th] (corylus.center) -- (1722,203) -- (1722,462) -- (blackm.center);
\draw[th] (jelenn.center) -- (1722,313);
\draw[md] (esvele.center) -- (1447,612) -- (1250,612) -- (inffound.center);
\draw[md,arr] (inffound.center) -- (1250,1215) -- (1227,1215) -- (vicT);
\draw[md] (infparty.center) -- (675,812) -- (675,1277) -- (jarlA);
\draw[md] (lovers.center) -- (675,981);
\draw[md] (escapes.center) -- (380,1013) -- (675,1013);
\draw[th,arr] (escapes.center) -- (298,981) -- (298,845) -- (scarlet.east);
\draw[th] (margo.south) -- (lovers.north);
\draw[th] (khafeyta.south) -- (lovers.north);
\draw[md] (renaer.center) -- (718,874) -- (canfool.center);
\draw[md,arr] (canfool.center) -- (718,1182) -- (961,1182) -- (aurinax.north);
\draw[th] (renaer.center |- 0,869) -- (kidnapped.center |- 0,869);
\VL{kidnapped}{mistaken}\VL{mistaken}{floon}
\draw[th,arr] (mistaken.center) -- (928,922) -- (928,892) -- (renaer.east |- 0,892);
\draw[th,arr] (estranged.north) -- (estranged.north |- renaer.south);
\VL{estranged}{dagult}\VL{dagult}{entrusted}\HL{dagult}{spy}\HL{spy}{dalakar}
\draw[th,arr] (entrusted.center) -- (1002,1138) -- (1002,1205);
\VL{volo}{asks}
\draw[th,arr] (asks.center) -- (1150,985) -- (floon.east);
\VL{elf}{soluun}\HL{soluun}{drow}\VL{felrekt}{drow}\VL{drow}{krebbyg}\VL{soluun}{brothers}
\draw[th] (brothers.center) -- (387,1648) -- (spyj.center);
\draw[md] (barnibus.center) -- (sgt.center);
\draw[th] (spyj.north) -- (jarlB);
\draw[th] (spyj.center) -- (spyj.center |- narl.north);
\draw[th] (spyj.center |- 0,1709) -- (poison.center |- 0,1709);
\draw[th,arr] (poison.center) -- (666,1706) -- (666,1665) -- (xanA);
\draw[md] (covets.center |- 0,1278) -- (jarlC);
\HL{covets}{aurinax}\VL{aurinax}{guards}
\draw[th,arr] (guards.south) -- (vault.north);
\draw[th,arr] (repl1.west) -- (hyustus.east);
\HL{repl1}{cressa}
\draw[th,arr] (captures.north) -- (hyustus.west);
\draw[md] (captures.center) -- (194,1739) -- (194,1829.5) -- (169,1829.5) -- (169,1947) -- (226.5,1947) -- (nihilor.center);
\VL[md]{harper}{thorvin}
\draw[tn] (qrr.center) -- (66,2237.5) -- (66,1776) -- (tries.center);
\draw[tn,arr] (tries.center) -- (xanB);
\draw[th] (thorvin.south) -- (underl.north);
\draw[th] (narl.south) -- (underl.north);
\HL{nihilor}{underl}\HL{underl}{noska}\VL{underl}{ahmaergo}
\draw[th,arr] (repl2.center) -- (113,2015) -- (nihilor.west);
\draw[th] (repl2.center) -- (113,2180);
\VL{xoblob}{spies}\VL{flutter}{kill}\VL{samara}{mspy}
\draw[th] (noska.center) -- (514.5,2270) -- (460,2270) -- (attacks.center);
\draw[th,arr] (attacks.south) -- (attacks.south |- grinda.north);
\draw[md] (xanC) -- (803,1849) -- (enslain.center);
\draw[th,arr] (enslain.center) -- (586,1849) -- (kobold.north);
\draw[th,arr] (658.5,1849) -- (658.5,1913);
\draw[th,arr] (routinely.north) -- (routinely.north |- sylgar.south);
\VL{routinely}{ott}
\draw[md,arr] (capt.center) -- (659,2474) -- (ott.south);
\draw[md] (capt.center) -- (1817,2474) -- (1817,1981) -- (vevette.center);
\draw[th] (xanD) -- (manD);
\draw[th,arr] (unware.east) -- (manE);
\VL{unware}{davil}\VL{davil}{doom}\VL{doom}{ziraj}
\draw[th] (istrid.south) -- (doom.west);
\draw[th] (tashlyn.south) -- (doom.west);
\HL{doom}{skeemo}
\draw[th] (spym.west) -- (manF);
\VL{spym}{skeemo}
\draw[th,arr] (disrupts.center) -- (manG);
\draw[th] (disrupts.center) -- (1230,2074) -- (summoned.center);
\draw[md] (ziraj.center) -- (1147,2213.5) -- (1147,2514) -- (887,2514) -- (friends.center);
\draw[th,arr] (yagra.center) -- (744,2333.5) -- (744,1925.5) -- (davil.west);
\draw[md] (tashlyn.center) -- (tashlyn.center |- infcity.center);
\VL{caladorn}{wants}
\draw[th,arr] ([xshift=7pt]wants.south) -- (cult.105);
\draw[th] (cult.center |- gysheer.center) -- (cult.center);
\draw[th] (jandar.south) -- (cult.136);
\draw[th] (tissina.east) -- (cult.136);
\HL{willif}{cult}
\draw[th] (vaelle.center |- 0,772) -- (1741,772) -- (cult.47);
\draw[th] (arn.west) -- (cult.45);
\draw[th] (seffia.west) -- (cult.east);
\draw[th,arr] (betrayed.north) -- (betrayed.north |- vaelle.south);
\draw[th] (betrayed.center) -- (1836,940) -- (1897,940) -- (1897,1087) -- (seffia.center);
\draw[th] (arn.center) -- (1897,1004);
\draw[th,arr] (cl) -- (cult.224);
\draw[th] (clW) -- (vicR);
\draw[md] (clW) -- (ammR);
\draw[th] (laiba.north) -- (cult.south);
\draw[th] (yalah.north) -- (cult.south);
\draw[th,arr] (laiba.center) -- (1665,1305) -- (1665,1235) -- (children.west);
\VL{terenzio}{children}\VL{children}{elzerina}\HL{children}{osvoldo}
\draw[th,arr] (hrabaz.center) -- (1390.5,1460) -- (1390.5,1512);
\HL{yalah}{orond}\VL{orond}{hurl}\VL{yalah}{sentout}
\draw[th,arr] (gchild.west) -- (orond.east);
\VL{tomassin}{gchild}\VL{gchild}{greth}\HL{gchild}{zartun}
\draw[th] (sentout.south) -- (nimble.west);
\VL{nimble}{fireballed}
\draw[th,arr] (fireballed.west) -- (1120,1589) -- (dalakar.south);
\draw[th,arr] (fireballed.south) -- (fireballed.south |- urstul.north);
\VL{urstul}{lieut}
\draw[th] (mookie.south east) -- (lieut.north west);
\draw[th] ([xshift=10pt]sidra.south west) -- (lieut.north east);
\HL{havia}{lieut}\HL{lieut}{vevette}\VL{lieut}{agorn}
\draw[th] (lieut.south east) -- ([xshift=3pt,yshift=-2pt]manafret.north west);
\draw[th] (sidra.east) -- (sends.west);
\draw[th,arr] (sends.east) -- (sends.east |- thrakkus.west);
\draw[th,arr] (ench.center) -- (summoned.south);
\draw[th] (ench.center) -- (appr.west);
\VL{savara}{appr}\VL{appr}{havi}\HL{appr}{ered}
\draw[th] (amath.center) -- (1503,2727) -- (1670,2727) -- (turning.center);
\draw[th,arr] (turning.south) -- (turning.south |- shan.north);
\draw[th,arr] (thrakkus.center |- unknow.center) -- (thrakkus.east);
\draw[th] (unknow.center) -- (unknow.center -| justyn.center);
\VL{justyn}{guild}\VL{guild}{hammond}
\draw[th] (guild.center) -- (1820.5,2592) -- (broxley.center);
\HL{martem}{necklace}
\VL{witness}{martem}\VL{witness}{jezr}
\draw[md] (necklace.center) -- (1356.5,2559);
\draw[md] (witness.center) -- (1356.5,2634);
\draw[md,arr] (creator.center) -- (1356.5,2452) -- (1908,2452) -- (1908,1715) -- (nimble.east);
\draw[md] (creator.center) -- (995,2774) -- (nim.center);
\draw[th] (witness.center) -- (924,2634) -- (924,2597) -- (fala.center |- 0,2597);
\HL{fala}{friends}
\draw[th] (hires.center) -- (hires.center -| jezr.center);
\draw[th,arr] (hires.west) -- (hires.west -| vicent.east);
\VL{embric}{steam}\VL{steam}{avi}\VL{emmek}{hamper}
\draw[th,arr] (hamper.center) -- (halfling.north |- hamper.center) -- (halfling.north);
\draw[th] (roscoe.center) -- (halfling.center |- roscoe.center);
\draw[line width=4.5pt] (170,2856.5) -- (170,3004);
\draw[th] (danika.center) -- (kelso.center);
\draw[th] (brynn.center |- 0,3004) -- (dasher.center |- 0,3004);
\VL{grinda}{has}\VL{kraken}{hirable}
\draw[th] (losser.east) -- (mapp.west);
\VL{kreela}{mapp}\VL{mapp}{retchyn}\HL{mapp}{mgrav}\VL{urlaster}{mgrav}\VL{mgrav}{volkarr}
\end{pgfonlayer}
\end{tikzpicture}
\end{document}
